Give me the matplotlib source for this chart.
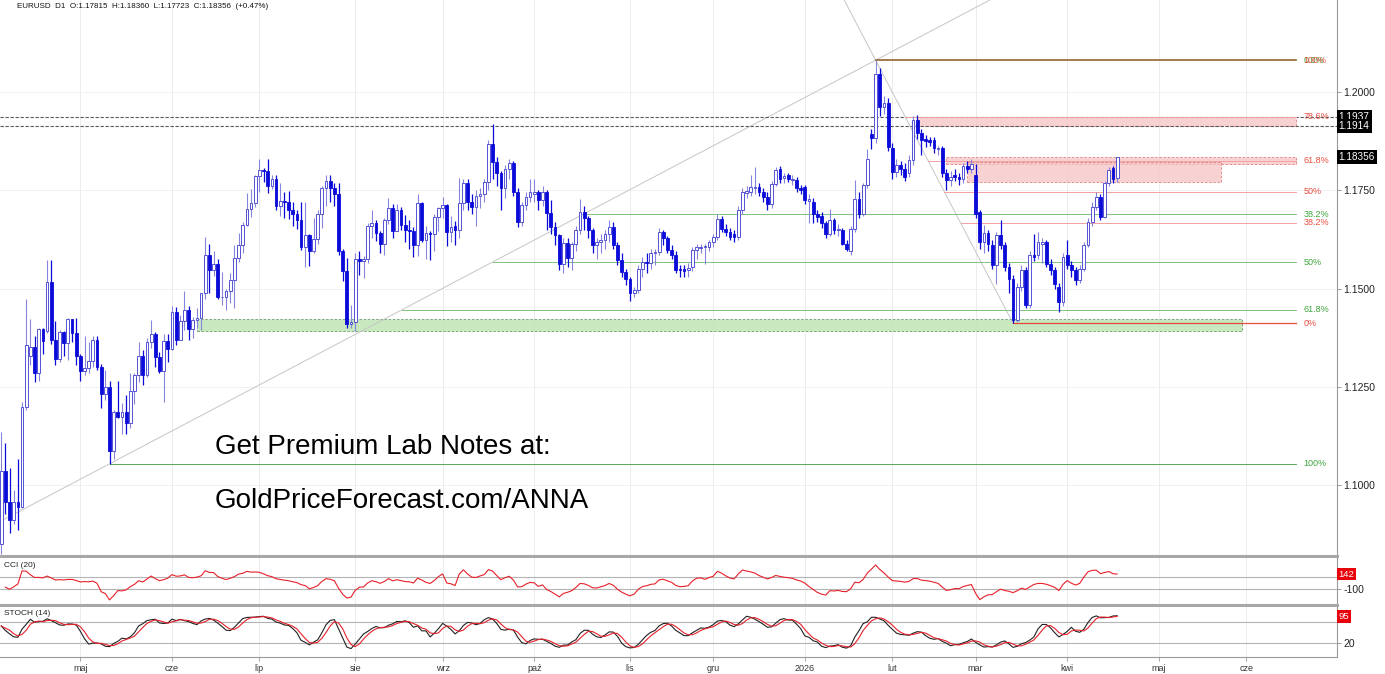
import matplotlib
matplotlib.use("Agg")
import matplotlib.pyplot as plt
import numpy as np
import pandas as pd
from matplotlib.patches import Rectangle

plt.rcParams["font.family"] = ["Liberation Sans", "DejaVu Sans"]

SYMBOL = "EURUSD"
TIMEFRAME = "D1"
START = "2025-04-03"
HOLIDAYS = ["2025-04-18", "2025-12-25", "2026-01-01"]

OPEN = [
    1.0852, 1.1036, 1.0958, 1.0911, 1.0958, 1.0946, 1.1199, 1.1330, 1.1352, 1.1286,
    1.1398, 1.1393, 1.1516, 1.1370, 1.1322, 1.1390, 1.1362, 1.1422, 1.1388, 1.1328,
    1.1290, 1.1298, 1.1316, 1.1370, 1.1301, 1.1232, 1.1251, 1.1088, 1.1186, 1.1174,
    1.1186, 1.1160, 1.1241, 1.1282, 1.1330, 1.1281, 1.1364, 1.1386, 1.1326, 1.1290,
    1.1368, 1.1346, 1.1442, 1.1370, 1.1419, 1.1445, 1.1397, 1.1420, 1.1425, 1.1488,
    1.1585, 1.1548, 1.1562, 1.1479, 1.1480, 1.1495, 1.1523, 1.1578, 1.1610, 1.1663,
    1.1702, 1.1718, 1.1787, 1.1802, 1.1800, 1.1760, 1.1778, 1.1711, 1.1723, 1.1720,
    1.1700, 1.1690, 1.1675, 1.1606, 1.1636, 1.1596, 1.1626, 1.1690, 1.1755, 1.1773,
    1.1755, 1.1740, 1.1595, 1.1545, 1.1410, 1.1415, 1.1575, 1.1570, 1.1575, 1.1660,
    1.1668, 1.1642, 1.1615, 1.1675, 1.1705, 1.1648, 1.1700, 1.1662, 1.1650, 1.1648,
    1.1610, 1.1718, 1.1625, 1.1643, 1.1638, 1.1683, 1.1705, 1.1712, 1.1645, 1.1660,
    1.1650, 1.1717, 1.1768, 1.1720, 1.1708, 1.1737, 1.1742, 1.1772, 1.1869, 1.1823,
    1.1793, 1.1755, 1.1805, 1.1819, 1.1746, 1.1670, 1.1712, 1.1734, 1.1742, 1.1746,
    1.1725, 1.1746, 1.1693, 1.1657, 1.1636, 1.1564, 1.1617, 1.1577, 1.1615, 1.1649,
    1.1695, 1.1680, 1.1649, 1.1611, 1.1618, 1.1623, 1.1640, 1.1657, 1.1611, 1.1573,
    1.1543, 1.1526, 1.1490, 1.1496, 1.1551, 1.1568, 1.1566, 1.1590, 1.1594, 1.1645,
    1.1628, 1.1598, 1.1585, 1.1550, 1.1550, 1.1547, 1.1556, 1.1598, 1.1604, 1.1605,
    1.1606, 1.1619, 1.1632, 1.1678, 1.1653, 1.1645, 1.1640, 1.1632, 1.1700, 1.1744,
    1.1746, 1.1755, 1.1759, 1.1746, 1.1733, 1.1716, 1.1767, 1.1805, 1.1782, 1.1788,
    1.1776, 1.1776, 1.1755, 1.1759, 1.1722, 1.1721, 1.1691, 1.1685, 1.1666, 1.1640,
    1.1674, 1.1649, 1.1649, 1.1615, 1.1596, 1.1653, 1.1729, 1.1691, 1.1763, 1.1894,
    1.1882, 1.2047, 1.1963, 1.1972, 1.1857, 1.1797, 1.1814, 1.1805, 1.1793, 1.1827,
    1.1929, 1.1895, 1.1880, 1.1878, 1.1878, 1.1855, 1.1857, 1.1793, 1.1776, 1.1790,
    1.1785, 1.1778, 1.1812, 1.1805, 1.1790, 1.1695, 1.1619, 1.1641, 1.1611, 1.1560,
    1.1636, 1.1611, 1.1556, 1.1526, 1.1420, 1.1505, 1.1547, 1.1458, 1.1585, 1.1585,
    1.1615, 1.1619, 1.1564, 1.1547, 1.1505, 1.1466, 1.1585, 1.1560, 1.1547, 1.1522,
    1.1551, 1.1611, 1.1670, 1.1708, 1.1734, 1.1683, 1.1768, 1.1806, 1.17815,
]
HIGH = [
    1.1135, 1.1107, 1.1045, 1.0988, 1.1067, 1.1212, 1.1474, 1.1424, 1.1381, 1.1400,
    1.1401, 1.1573, 1.1572, 1.1418, 1.1395, 1.1392, 1.1425, 1.1424, 1.1425, 1.1334,
    1.1381, 1.1365, 1.1380, 1.1379, 1.1308, 1.1293, 1.1266, 1.1192, 1.1266, 1.1210,
    1.1229, 1.1287, 1.1287, 1.1364, 1.1344, 1.1375, 1.1420, 1.1390, 1.1340, 1.1384,
    1.1385, 1.1455, 1.1453, 1.1434, 1.1495, 1.1457, 1.1428, 1.1452, 1.1490, 1.1631,
    1.1614, 1.1597, 1.1576, 1.1542, 1.1500, 1.1540, 1.1610, 1.1641, 1.1670, 1.1743,
    1.1754, 1.1790, 1.1829, 1.1808, 1.1830, 1.1790, 1.1790, 1.1770, 1.1745, 1.1749,
    1.1720, 1.1700, 1.1720, 1.1720, 1.1640, 1.1680, 1.1700, 1.1760, 1.1788, 1.1789,
    1.1770, 1.1770, 1.1600, 1.1578, 1.1458, 1.1590, 1.1597, 1.1584, 1.1667, 1.1699,
    1.1675, 1.1647, 1.1680, 1.1730, 1.1716, 1.1716, 1.1707, 1.1688, 1.1675, 1.1657,
    1.1742, 1.1720, 1.1660, 1.1648, 1.1690, 1.1709, 1.1733, 1.1716, 1.1684, 1.1672,
    1.1781, 1.1780, 1.1780, 1.1740, 1.1750, 1.1755, 1.1780, 1.1878, 1.1920, 1.1835,
    1.1800, 1.1815, 1.1830, 1.1825, 1.1755, 1.1720, 1.1745, 1.1780, 1.1780, 1.1750,
    1.1760, 1.1750, 1.1725, 1.1670, 1.1640, 1.1630, 1.1630, 1.1620, 1.1660, 1.1728,
    1.1710, 1.1685, 1.1655, 1.1630, 1.1640, 1.1650, 1.1674, 1.1670, 1.1620, 1.1590,
    1.1550, 1.1530, 1.1505, 1.1560, 1.1580, 1.1590, 1.1600, 1.1600, 1.1655, 1.1650,
    1.1635, 1.1610, 1.1595, 1.1560, 1.1560, 1.1565, 1.1605, 1.1615, 1.1615, 1.1615,
    1.1625, 1.1640, 1.1691, 1.1685, 1.1665, 1.1655, 1.1650, 1.1710, 1.1755, 1.1760,
    1.1790, 1.1809, 1.1770, 1.1755, 1.1745, 1.1775, 1.1810, 1.1812, 1.1795, 1.1795,
    1.1788, 1.1785, 1.1765, 1.1765, 1.1740, 1.1730, 1.1700, 1.1695, 1.1672, 1.1704,
    1.1680, 1.1665, 1.1655, 1.1625, 1.1660, 1.1776, 1.1745, 1.1770, 1.1856, 1.1905,
    1.2081, 1.2060, 1.1990, 1.1985, 1.1870, 1.1830, 1.1825, 1.1820, 1.1840, 1.1940,
    1.1941, 1.1905, 1.1890, 1.1885, 1.1885, 1.1862, 1.1862, 1.1805, 1.1800, 1.1805,
    1.1795, 1.1820, 1.1825, 1.1830, 1.1818, 1.1700, 1.1662, 1.1650, 1.1625, 1.1645,
    1.1674, 1.1620, 1.1565, 1.1535, 1.1515, 1.1560, 1.1555, 1.1595, 1.1640, 1.1645,
    1.1630, 1.1625, 1.1575, 1.1555, 1.1515, 1.1590, 1.1625, 1.1570, 1.1555, 1.1560,
    1.1620, 1.1680, 1.1720, 1.1745, 1.1740, 1.1775, 1.1810, 1.1812, 1.18360,
]
LOW = [
    1.0825, 1.0928, 1.0880, 1.0902, 1.0887, 1.0942, 1.1193, 1.1307, 1.1264, 1.1265,
    1.1335, 1.1388, 1.1360, 1.1305, 1.1315, 1.1328, 1.1318, 1.1364, 1.1305, 1.1265,
    1.1281, 1.1285, 1.1300, 1.1294, 1.1198, 1.1216, 1.1055, 1.1068, 1.1172, 1.1130,
    1.1130, 1.1145, 1.1207, 1.1262, 1.1255, 1.1275, 1.1350, 1.1300, 1.1285, 1.1211,
    1.1313, 1.1344, 1.1357, 1.1369, 1.1396, 1.1371, 1.1376, 1.1400, 1.1395, 1.1475,
    1.1489, 1.1532, 1.1473, 1.1460, 1.1445, 1.1465, 1.1451, 1.1568, 1.1590, 1.1659,
    1.1682, 1.1709, 1.1747, 1.1772, 1.1743, 1.1754, 1.1700, 1.1684, 1.1681, 1.1677,
    1.1659, 1.1653, 1.1599, 1.1556, 1.1557, 1.1590, 1.1615, 1.1655, 1.1710, 1.1720,
    1.1710, 1.1586, 1.1520, 1.1400, 1.1401, 1.1392, 1.1534, 1.1528, 1.1565, 1.1630,
    1.1622, 1.1590, 1.1585, 1.1664, 1.1630, 1.1647, 1.1650, 1.1620, 1.1600, 1.1582,
    1.1583, 1.1620, 1.1575, 1.1573, 1.1595, 1.1646, 1.1680, 1.1608, 1.1620, 1.1610,
    1.1630, 1.1700, 1.1700, 1.1690, 1.1660, 1.1705, 1.1720, 1.1750, 1.1780, 1.1760,
    1.1700, 1.1730, 1.1780, 1.1735, 1.1657, 1.1660, 1.1700, 1.1720, 1.1720, 1.1700,
    1.1710, 1.1650, 1.1640, 1.1610, 1.1547, 1.1540, 1.1555, 1.1547, 1.1595, 1.1640,
    1.1650, 1.1630, 1.1590, 1.1575, 1.1590, 1.1600, 1.1620, 1.1600, 1.1560, 1.1530,
    1.1510, 1.1470, 1.1479, 1.1490, 1.1530, 1.1540, 1.1550, 1.1560, 1.1585, 1.1610,
    1.1590, 1.1575, 1.1540, 1.1530, 1.1530, 1.1530, 1.1545, 1.1575, 1.1590, 1.1564,
    1.1595, 1.1605, 1.1625, 1.1645, 1.1635, 1.1625, 1.1620, 1.1625, 1.1690, 1.1730,
    1.1735, 1.1740, 1.1735, 1.1720, 1.1700, 1.1705, 1.1760, 1.1770, 1.1770, 1.1772,
    1.1765, 1.1745, 1.1740, 1.1715, 1.1666, 1.1666, 1.1670, 1.1655, 1.1630, 1.1635,
    1.1640, 1.1635, 1.1610, 1.1596, 1.1585, 1.1645, 1.1680, 1.1685, 1.1755, 1.1856,
    1.1870, 1.1940, 1.1945, 1.1850, 1.1780, 1.1785, 1.1790, 1.1775, 1.1785, 1.1815,
    1.1880, 1.1840, 1.1860, 1.1862, 1.1845, 1.1840, 1.1785, 1.1751, 1.1760, 1.1775,
    1.1765, 1.1770, 1.1795, 1.1795, 1.1680, 1.1600, 1.1590, 1.1595, 1.1550, 1.1513,
    1.1600, 1.1545, 1.1490, 1.1412, 1.1415, 1.1495, 1.1450, 1.1450, 1.1570, 1.1575,
    1.1565, 1.1555, 1.1535, 1.1500, 1.1441, 1.1455, 1.1550, 1.1530, 1.1510, 1.1515,
    1.1545, 1.1605, 1.1660, 1.1700, 1.1675, 1.1680, 1.1760, 1.1770, 1.17723,
]
CLOSE = [
    1.1036, 1.0958, 1.0911, 1.0958, 1.0946, 1.1199, 1.1357, 1.1352, 1.1286, 1.1398,
    1.1367, 1.1516, 1.1370, 1.1322, 1.1390, 1.1362, 1.1422, 1.1388, 1.1328, 1.1290,
    1.1298, 1.1316, 1.1370, 1.1301, 1.1232, 1.1251, 1.1088, 1.1186, 1.1174, 1.1186,
    1.1160, 1.1241, 1.1282, 1.1330, 1.1281, 1.1364, 1.1386, 1.1326, 1.1290, 1.1368,
    1.1346, 1.1442, 1.1370, 1.1419, 1.1445, 1.1397, 1.1420, 1.1425, 1.1488, 1.1585,
    1.1548, 1.1562, 1.1479, 1.1480, 1.1495, 1.1523, 1.1578, 1.1610, 1.1663, 1.1702,
    1.1718, 1.1787, 1.1802, 1.1800, 1.1760, 1.1778, 1.1711, 1.1723, 1.1720, 1.1700,
    1.1690, 1.1675, 1.1606, 1.1636, 1.1596, 1.1626, 1.1690, 1.1755, 1.1773, 1.1755,
    1.1740, 1.1595, 1.1545, 1.1410, 1.1415, 1.1575, 1.1570, 1.1575, 1.1660, 1.1668,
    1.1642, 1.1615, 1.1675, 1.1705, 1.1648, 1.1700, 1.1662, 1.1650, 1.1648, 1.1610,
    1.1718, 1.1625, 1.1643, 1.1638, 1.1683, 1.1705, 1.1712, 1.1645, 1.1657, 1.1650,
    1.1717, 1.1768, 1.1720, 1.1708, 1.1737, 1.1742, 1.1772, 1.1869, 1.1823, 1.1793,
    1.1755, 1.1805, 1.1819, 1.1746, 1.1670, 1.1712, 1.1734, 1.1745, 1.1746, 1.1725,
    1.1746, 1.1693, 1.1657, 1.1636, 1.1564, 1.1617, 1.1577, 1.1615, 1.1649, 1.1695,
    1.1680, 1.1649, 1.1611, 1.1620, 1.1623, 1.1640, 1.1657, 1.1611, 1.1573, 1.1543,
    1.1526, 1.1490, 1.1496, 1.1551, 1.1568, 1.1566, 1.1590, 1.1594, 1.1645, 1.1628,
    1.1598, 1.1585, 1.1547, 1.1547, 1.1545, 1.1552, 1.1598, 1.1606, 1.1607, 1.1608,
    1.1619, 1.1632, 1.1678, 1.1653, 1.1645, 1.1632, 1.1632, 1.1700, 1.1746, 1.1748,
    1.1759, 1.1759, 1.1746, 1.1733, 1.1716, 1.1767, 1.1801, 1.1780, 1.1786, 1.1780,
    1.1780, 1.1755, 1.1751, 1.1725, 1.1727, 1.1691, 1.1683, 1.1666, 1.1640, 1.1674,
    1.1649, 1.1653, 1.1615, 1.1602, 1.1653, 1.1729, 1.1691, 1.1763, 1.1830, 1.1882,
    1.2047, 1.1963, 1.1972, 1.1861, 1.1797, 1.1814, 1.1805, 1.1785, 1.1827, 1.1929,
    1.1895, 1.1878, 1.1875, 1.1872, 1.1857, 1.1858, 1.1793, 1.1776, 1.1785, 1.1785,
    1.1778, 1.1812, 1.1805, 1.1818, 1.1691, 1.1619, 1.1641, 1.1615, 1.1560, 1.1636,
    1.1611, 1.1556, 1.1526, 1.1420, 1.1505, 1.1547, 1.1458, 1.1585, 1.1581, 1.1619,
    1.1619, 1.1564, 1.1547, 1.1513, 1.1466, 1.1580, 1.1560, 1.1547, 1.1522, 1.1551,
    1.1611, 1.1670, 1.1708, 1.1734, 1.1683, 1.1768, 1.1802, 1.1780, 1.18356,
]

PRICE_TICKS = [1.1000, 1.1250, 1.1500, 1.1750, 1.2000]
MONTHS_PL = ["sty", "lut", "mar", "kwi", "maj", "cze", "lip", "sie", "wrz", "paź", "lis", "gru"]

RESISTANCE = [1.1937, 1.1914]
# zones: (first day, last day, low, high)
RED_ZONES = [(220, 311, 1.1914, 1.1937), (227, 311, 1.1817, 1.1835), (232, 293, 1.1772, 1.1822)]
GREEN_ZONE = (47, 298, 1.1392, 1.1422)

SWING_LOW_1 = 26    # May low
SWING_HIGH = 210    # January high
SWING_LOW_2 = 243   # March low
FIB_END = 311
GREEN_LEVELS = [0.0, 0.382, 0.5, 0.618, 1.0]
GREEN_LABELS = ["0.0%", "38.2%", "50%", "61.8%", "100%"]
RED_LEVELS = [1.0, 0.786, 0.618, 0.5, 0.382, 0.0]
RED_LABELS = ["100%", "78.6%", "61.8%", "50%", "38.2%", "0%"]

CCI_PERIOD = 20
STOCH_PERIOD = 14

W, H = 1385, 674
AX_RIGHT = 1337
XLIM = (-0.3, 320.8)
YLIM = (1.0822, 1.2234)

BEAR = "#0b0bd9"
BULL_EDGE = "#5353d4"
BULL_WICK = "#8585de"
GREEN = "#3da53d"
RED = "#e5392a"
GRID = "#ececec"

o, h, l, c = (np.array(v) for v in (OPEN, HIGH, LOW, CLOSE))
x = np.arange(len(c))

# indicators
tp = pd.Series((h + l + c) / 3)
sma = tp.rolling(CCI_PERIOD, min_periods=2).mean()
mad = tp.rolling(CCI_PERIOD, min_periods=2).apply(lambda v: np.mean(np.abs(v - v.mean())), raw=True)
cci = (tp - sma) / (0.015 * mad)
ll = pd.Series(l).rolling(STOCH_PERIOD, min_periods=1).min()
hh = pd.Series(h).rolling(STOCH_PERIOD, min_periods=1).max()
fast_k = 100 * (pd.Series(c) - ll) / (hh - ll)
slow_k = fast_k.rolling(3, min_periods=1).mean()
slow_d = slow_k.rolling(3, min_periods=1).mean()

# month ticks from the trading calendar
cal = pd.offsets.CustomBusinessDay(holidays=HOLIDAYS)
days = pd.date_range(START, periods=340, freq=cal)
firsts = pd.Series(np.arange(len(days)), index=days).groupby([days.year, days.month]).first()
month_pos, month_lab = [], []
for (yr, mo), i in firsts.items():
    if 0 < i < XLIM[1]:
        month_pos.append(i)
        month_lab.append(str(yr) if mo == 1 else MONTHS_PL[mo - 1])

fig = plt.figure(figsize=(W / 100, H / 100), dpi=100)


def px_axes(top, bottom):
    return fig.add_axes([0, 1 - bottom / H, AX_RIGHT / W, (bottom - top) / H])


ax = px_axes(0, 555.5)
ax_cci = px_axes(557.5, 605)
ax_st = px_axes(606.5, 657)

for a in (ax, ax_cci, ax_st):
    a.set_xlim(*XLIM)
    a.spines["left"].set_visible(False)
    a.spines["top"].set_visible(False)
    a.spines["right"].set_color("#9a9a9a")
    a.spines["right"].set_linewidth(0.8)
    a.yaxis.tick_right()
    a.tick_params(axis="y", length=3, width=0.6, color="#888888", labelsize=7.5,
                  labelcolor="#222222", pad=1.5)
    for p in month_pos:
        a.axvline(p, color=GRID, lw=0.7, zorder=0)
for a in (ax, ax_cci):
    a.set_xticks([])
    a.spines["bottom"].set_color("#a8a8a8")
    a.spines["bottom"].set_linewidth(2.2)
ax_st.spines["bottom"].set_color("#9a9a9a")
ax_st.spines["bottom"].set_linewidth(0.8)

# main price panel
ax.set_ylim(*YLIM)
ax.set_yticks(PRICE_TICKS)
ax.set_yticklabels([f"{p:.4f}" for p in PRICE_TICKS])
for p in PRICE_TICKS:
    ax.axhline(p, color="#f0f0f0", lw=0.7, zorder=0)

for x0, x1, lo, hi in RED_ZONES:
    ax.add_patch(Rectangle((x0, lo), x1 - x0, hi - lo, facecolor="#f6c4c4", alpha=0.75,
                           edgecolor="#d96060", ls=(0, (3, 2)), lw=0.6, zorder=1))
gx0, gx1, glo, ghi = GREEN_ZONE
ax.add_patch(Rectangle((gx0, glo), gx1 - gx0, ghi - glo, facecolor="#bfe4b5", alpha=0.85,
                       edgecolor="#5b8f5b", ls=(0, (3, 2)), lw=0.6, zorder=1))

for p in RESISTANCE:
    ax.axhline(p, color="#5a5a5a", lw=0.8, ls=(0, (3, 1.5)), zorder=2)

lo1, hi1, lo2 = LOW[SWING_LOW_1], HIGH[SWING_HIGH], LOW[SWING_LOW_2]
ax.axline((SWING_LOW_1, lo1), (SWING_HIGH, hi1), color="#c6c6c6", lw=0.7, zorder=1.5)
slope2 = (hi1 - lo2) / (SWING_HIGH - SWING_LOW_2)
x_top = SWING_LOW_2 + (YLIM[1] - lo2) / slope2
ax.plot([SWING_LOW_2, x_top], [lo2, YLIM[1]], color="#c6c6c6", lw=0.7, zorder=1.5)

for r, lab in zip(GREEN_LEVELS, GREEN_LABELS):
    p = hi1 - r * (hi1 - lo1)
    xs = SWING_LOW_1 + (1 - r) * (SWING_HIGH - SWING_LOW_1)
    ax.plot([xs, FIB_END], [p, p], color="#7cc47c" if 0 < r < 1 else "#55aa55",
            lw=1.2 if r == 0 else 0.7, zorder=2)
    ax.text(FIB_END + 1.8, p, lab, color=GREEN, fontsize=6.5, va="center", ha="left")
for r, lab in zip(RED_LEVELS, RED_LABELS):
    p = lo2 + r * (hi1 - lo2)
    xs = SWING_HIGH + (1 - r) * (SWING_LOW_2 - SWING_HIGH)
    if r in (0.0, 1.0):
        ax.plot([xs, FIB_END], [p, p], color=RED, lw=1.1 if r else 0.9,
                alpha=0.6 if r else 0.9, zorder=2.2)
    else:
        ax.plot([xs, FIB_END], [p, p], color="#f2a0a0", lw=0.7, zorder=2.2)
    ax.text(FIB_END + 1.8, p, lab, color=RED, fontsize=6.5, va="center", ha="left", alpha=0.9)

up = c >= o
ax.vlines(x[up], l[up], h[up], color=BULL_WICK, lw=0.8, zorder=3)
ax.vlines(x[~up], l[~up], h[~up], color=BEAR, lw=0.9, zorder=3)
ax.bar(x[up], (c - o)[up], bottom=o[up], width=0.66, color="white",
       edgecolor=BULL_EDGE, linewidth=0.7, zorder=4)
ax.bar(x[~up], (o - c)[~up], bottom=c[~up], width=0.66, color=BEAR,
       edgecolor=BEAR, linewidth=0.6, zorder=4)


def tag(a, y, text, fc, size=6.5):
    a.annotate(text, xy=(1, y), xycoords=a.get_yaxis_transform(), xytext=(1.2, 0),
               textcoords="offset points", ha="left", va="center", fontsize=size,
               color="white", annotation_clip=False, zorder=10,
               bbox=dict(boxstyle="square,pad=0.2", fc=fc, ec="none"))


for p in RESISTANCE:
    tag(ax, p, f"{p:.4f}", "black", size=7.3)
tag(ax, c[-1], f"{c[-1]:.5f}", "black", size=7.2)

chg = (c[-1] / c[-2] - 1) * 100
header = (f"{SYMBOL}  {TIMEFRAME}  O:{o[-1]:.5f}  H:{h[-1]:.5f}  L:{l[-1]:.5f}  "
          f"C:{c[-1]:.5f}  ({chg:+.2f}%)")
ax.text(17 / AX_RIGHT, 1 - 7 / 555.5, header, transform=ax.transAxes, fontsize=5.8,
        va="center", ha="left", color="#111111")

ax.text(215 / AX_RIGHT, 1 - 454.5 / 555.5, "Get Premium Lab Notes at:", transform=ax.transAxes,
        fontsize=20, va="baseline", ha="left", color="black", zorder=6)
ax.text(215 / AX_RIGHT, 1 - 507.7 / 555.5, "GoldPriceForecast.com/ANNA", transform=ax.transAxes,
        fontsize=20, va="baseline", ha="left", color="black", zorder=6)

# CCI panel
ax_cci.plot(x, cci, color="#e8202a", lw=0.8)
ax_cci.set_ylim(-350, 405)
for lvl in (100, -100):
    ax_cci.axhline(lvl, color="#b4b4b4", lw=0.8, zorder=1)
ax_cci.set_yticks([-100])
ax_cci.set_yticklabels(["-100"])
ax_cci.text(4 / AX_RIGHT, 0.84, f"CCI ({CCI_PERIOD})", transform=ax_cci.transAxes,
            fontsize=6, va="center", color="#222222")
tag(ax_cci, cci.iloc[-1], f"{cci.iloc[-1]:.0f}", "#e8000b", size=6.8)

# Stochastic panel
ax_st.plot(x, slow_k, color="#222222", lw=0.8)
ax_st.plot(x, slow_d, color="#e8202a", lw=0.8)
ax_st.set_ylim(-18, 122)
for lvl in (80, 20):
    ax_st.axhline(lvl, color="#b4b4b4", lw=0.8, zorder=1)
ax_st.set_yticks([20])
ax_st.set_yticklabels(["20"])
ax_st.text(4 / AX_RIGHT, 0.87, f"STOCH ({STOCH_PERIOD})", transform=ax_st.transAxes,
           fontsize=6, va="center", color="#222222")
tag(ax_st, slow_d.iloc[-1], f"{slow_d.iloc[-1]:.0f}", "#e8000b", size=6.8)

ax_st.set_xticks(month_pos)
ax_st.set_xticklabels(month_lab)
ax_st.tick_params(axis="x", length=3, width=0.6, color="#999999", labelsize=6.5,
                  labelcolor="#333333", pad=2)

fig.savefig("out.png", dpi=100, facecolor="white")
